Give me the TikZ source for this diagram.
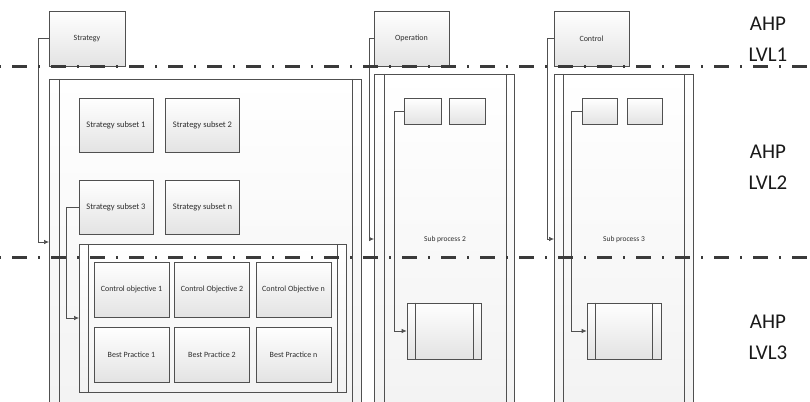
\documentclass[tikz,border=0pt]{standalone}
\usepackage{fontspec}
\setmainfont{Carlito}
\usetikzlibrary{arrows.meta,calc}
\definecolor{ln}{HTML}{505050}
\definecolor{dl}{HTML}{3A3A3A}
\definecolor{tx}{HTML}{2E2E2E}
\begin{document}
\begin{tikzpicture}[x=1pt,y=-1pt,
  box/.style={draw=ln, line width=0.7pt, top color=white, bottom color=gray!22, text=tx,
    font=\fontsize{8}{9}\selectfont, inner sep=0pt},
  cont/.style={draw=ln, line width=0.7pt, top color=white, bottom color=gray!10, anchor=north west, inner sep=0pt},
  inl/.style={draw=ln, line width=0.7pt},
  conn/.style={draw=ln, line width=0.7pt, -{Latex[length=5pt,width=4.5pt]}},
  lvl/.style={draw=dl, line width=3pt, dash pattern=on 15pt off 11pt on 2pt off 11pt},
  ahp/.style={text=black!90, font=\fontsize{21}{31}\selectfont, align=center},
  lbl/.style={text=tx, font=\fontsize{7.5}{9}\selectfont}
]
\useasboundingbox (0,0) rectangle (810,401);
\clip (0,0) rectangle (810,401);

% containers
\node[cont, minimum width=312pt, minimum height=340pt] (sc) at (49,79) {};
\draw[inl] ([xshift=10pt]sc.north west) -- ([xshift=10pt]sc.south west);
\draw[inl] ([xshift=-9pt]sc.north east) -- ([xshift=-9pt]sc.south east);

\node[cont, minimum width=140pt, minimum height=345pt] (oc) at (374,74) {};
\draw[inl] ([xshift=10pt]oc.north west) -- ([xshift=10pt]oc.south west);
\draw[inl] ([xshift=-8pt]oc.north east) -- ([xshift=-8pt]oc.south east);

\node[cont, minimum width=139pt, minimum height=345pt] (cc) at (554,74) {};
\draw[inl] ([xshift=9pt]cc.north west) -- ([xshift=9pt]cc.south west);
\draw[inl] ([xshift=-9pt]cc.north east) -- ([xshift=-9pt]cc.south east);

% top level boxes
\node[box, minimum width=76pt, minimum height=55pt] (st) at (87,38.5) {Strategy};
\node[box, minimum width=75pt, minimum height=55pt] (op) at (411.5,38.5) {Operation};
\node[box, minimum width=75pt, minimum height=55pt] (ct) at (591.5,38.5) {Control};

% strategy subsets
\node[box, font=\fontsize{8.5}{10}\selectfont, minimum width=74pt, minimum height=54pt] (ss1) at (116,125) {Strategy subset 1};
\node[box, font=\fontsize{8.5}{10}\selectfont, minimum width=74pt, minimum height=54pt] (ss2) at (202.5,125) {Strategy subset 2};
\node[box, font=\fontsize{8.5}{10}\selectfont, minimum width=74pt, minimum height=54pt] (ss3) at (116,207) {Strategy subset 3};
\node[box, font=\fontsize{8.5}{10}\selectfont, minimum width=74pt, minimum height=54pt] (ssn) at (202.5,207) {Strategy subset n};

% control objective container
\node[cont, minimum width=267pt, minimum height=148pt] (coc) at (79,244) {};
\draw[inl] ([xshift=9pt]coc.north west) -- ([xshift=9pt]coc.south west);
\draw[inl] ([xshift=-9pt]coc.north east) -- ([xshift=-9pt]coc.south east);

\node[box, minimum width=75pt, minimum height=55pt] (co1) at (131.5,289.5) {Control objective 1};
\node[box, minimum width=75pt, minimum height=55pt] (co2) at (212,289.5) {Control Objective 2};
\node[box, minimum width=75pt, minimum height=55pt] (con) at (293.5,289.5) {Control Objective n};
\node[box, minimum width=75pt, minimum height=55pt] (bp1) at (131.5,354.5) {Best Practice 1};
\node[box, minimum width=75pt, minimum height=55pt] (bp2) at (212,354.5) {Best Practice 2};
\node[box, minimum width=75pt, minimum height=55pt] (bpn) at (293.5,354.5) {Best Practice n};

% operation internals
\node[box, minimum width=37pt, minimum height=26pt] (ob1) at (422.5,111) {};
\node[box, minimum width=36pt, minimum height=26pt] (ob2) at (467,111) {};
\node[lbl] (sp2) at (445,239) {Sub process 2};
\node[box, minimum width=74pt, minimum height=56pt] (obb) at (444,331) {};
\draw[inl] ([xshift=9pt]obb.north west) -- ([xshift=9pt]obb.south west);
\draw[inl] ([xshift=-8pt]obb.north east) -- ([xshift=-8pt]obb.south east);

% control internals
\node[box, minimum width=35pt, minimum height=26pt] (cb1) at (599.5,111) {};
\node[box, minimum width=35pt, minimum height=26pt] (cb2) at (644.5,111) {};
\node[lbl] (sp3) at (624,239) {Sub process 3};
\node[box, minimum width=74pt, minimum height=56pt] (cbb) at (624,331) {};
\draw[inl] ([xshift=9pt]cbb.north west) -- ([xshift=9pt]cbb.south west);
\draw[inl] ([xshift=-9pt]cbb.north east) -- ([xshift=-9pt]cbb.south east);

% connectors
\draw[conn] (st.west) -- (38,38.5) -- (38,242) -- ([yshift=-163pt]sc.north west);
\draw[conn] (ss3.west) -- (66,207) -- (66,318) -- ([yshift=-74pt]coc.north west);
\draw[conn] (op.west) -- (369,38.5) -- (369,239) -- ([yshift=-165pt]oc.north west);
\draw[conn] (ob1.west) -- (394,111) -- (394,331) -- (obb.west);
\draw[conn] (ct.west) -- (547,38.5) -- (547,239) -- ([yshift=-165pt]cc.north west);
\draw[conn] (cb1.west) -- (571,111) -- (571,331) -- (cbb.west);

% level lines
\coordinate (l1a) at (-27,67);
\coordinate (l1b) at (815,67);
\coordinate (l2a) at (-27,257);
\coordinate (l2b) at (815,257);
\draw[lvl] (l1a) -- (l1b);
\draw[lvl] (l2a) -- (l2b);

% level labels
\node[ahp] (a1) at (768,39) {AHP\\LVL1};
\node[ahp] (a2) at (768,167) {AHP\\LVL2};
\node[ahp] (a3) at (768,337) {AHP\\LVL3};
\end{tikzpicture}
\end{document}
